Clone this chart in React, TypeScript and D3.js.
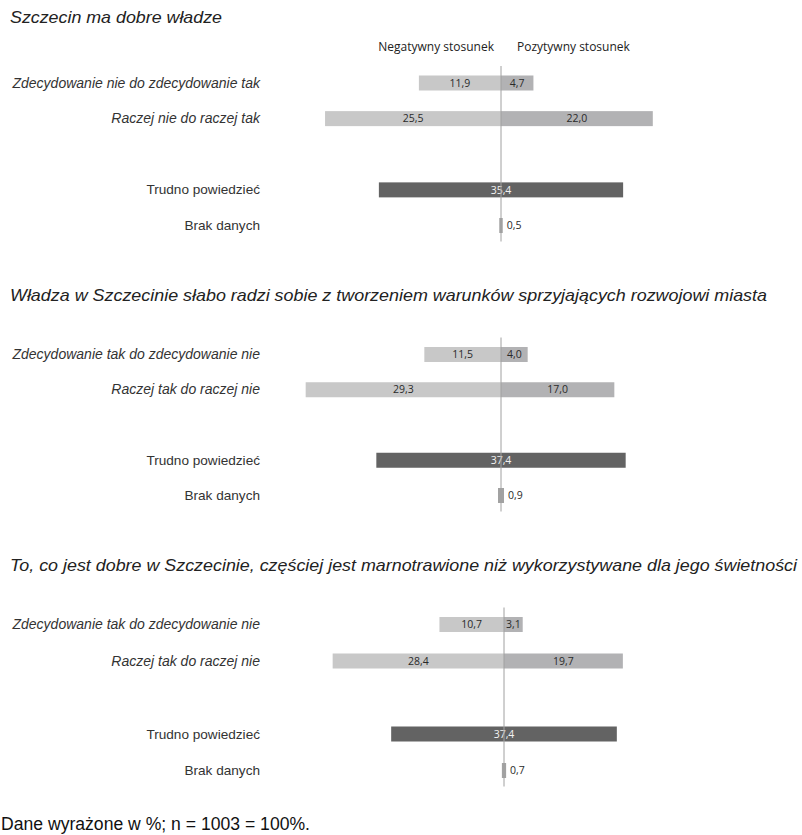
import React from "react";
import * as d3 from "d3";

// ---- data ----
const panelTitles = [
  "Szczecin ma dobre władze",
  "Władza w Szczecinie słabo radzi sobie z tworzeniem warunków sprzyjających rozwojowi miasta",
  "To, co jest dobre w Szczecinie, częściej jest marnotrawione niż wykorzystywane dla jego świetności",
];
const rowLabelsPanel1 = ["Zdecydowanie nie do zdecydowanie tak", "Raczej nie do raczej tak", "Trudno powiedzieć", "Brak danych"];
const rowLabelsOther = ["Zdecydowanie tak do zdecydowanie nie", "Raczej tak do raczej nie", "Trudno powiedzieć", "Brak danych"];
const negativeValues = [
  [11.9, 25.5],
  [11.5, 29.3],
  [10.7, 28.4],
];
const positiveValues = [
  [4.7, 22.0],
  [4.0, 17.0],
  [3.1, 19.7],
];
const hardToSayValues = [35.4, 37.4, 37.4];
const noDataValues = [0.5, 0.9, 0.7];
const headerLabels = ["Negatywny stosunek", "Pozytywny stosunek"];
const footnote = "Dane wyrażone w %; n = 1003 = 100%.";

// ---- layout ----
const W = 802;
const H = 835;
const panels = [
  { titleY: 23, titleLen: 212, axisX: 501, half: 207, r1: 83, r4: 225.5 },
  { titleY: 301, titleLen: 757, axisX: 501, half: 200, r1: 354.5, r4: 495.5 },
  { titleY: 571, titleLen: 787, axisX: 504, half: 181, r1: 624.5, r4: 770.5 },
];
const slots = ["r1", "r2", "gap", "r3", "r4"];
const BAR_H = 15;
const NEG = "#c8c8c8";
const POS = "#b2b2b4";
const HARD = "#636363";
const NODATA = "#a2a2a2";
const AXIS = "#a0a0a0";
const fmt = (v: number) => v.toFixed(1).replace(".", ",");
const labelFont = "'Liberation Sans', Arial, sans-serif";
const valueFont = "'Open Sans', sans-serif";

function Panel({ i }: { i: number }) {
  const p = panels[i];
  const x = d3.scaleLinear().domain([-30, 30]).range([p.axisX - p.half, p.axisX + p.half]);
  const y = d3.scalePoint<string>().domain(slots).range([p.r1, p.r4]);
  const labels = i === 0 ? rowLabelsPanel1 : rowLabelsOther;
  const rowKeys = ["r1", "r2", "r3", "r4"];
  const x0 = x(0);
  return (
    <g>
      <text
        x={10}
        y={p.titleY}
        fontFamily={labelFont}
        fontStyle="italic"
        fontSize={17}
        fill="#222"
        textLength={p.titleLen}
        lengthAdjust="spacingAndGlyphs"
      >
        {panelTitles[i]}
      </text>
      {i === 0 && (
        <g fontFamily={valueFont} fontSize={12} fill="#222">
          <text x={494} y={51} textAnchor="end">{headerLabels[0]}</text>
          <text x={517} y={51}>{headerLabels[1]}</text>
        </g>
      )}
      {rowKeys.map((k, j) => (
        <text
          key={k}
          x={260}
          y={(y(k) as number) + 4.5}
          textAnchor="end"
          fontFamily={labelFont}
          fontStyle={j < 2 ? "italic" : "normal"}
          fontSize={j < 2 ? 14 : 13.6}
          fill="#333"
        >
          {labels[j]}
        </text>
      ))}
      {/* agree/disagree rows */}
      {[0, 1].map((j) => {
        const cy = y(rowKeys[j]) as number;
        const nv = negativeValues[i][j];
        const pv = positiveValues[i][j];
        return (
          <g key={j}>
            <rect x={x(-nv)} y={cy - BAR_H / 2} width={x0 - x(-nv)} height={BAR_H} fill={NEG} />
            <rect x={x0} y={cy - BAR_H / 2} width={x(pv) - x0} height={BAR_H} fill={POS} />
            <text x={(x(-nv) + x0) / 2} y={cy + 3.7} textAnchor="middle" fontFamily={valueFont} fontSize={10.5} fontWeight={500} fill="#2a2a2a">
              {fmt(nv)}
            </text>
            <text x={(x(pv) + x0) / 2} y={cy + 3.7} textAnchor="middle" fontFamily={valueFont} fontSize={10.5} fontWeight={500} fill="#2a2a2a">
              {fmt(pv)}
            </text>
          </g>
        );
      })}
      {/* hard to say */}
      {(() => {
        const cy = y("r3") as number;
        const v = hardToSayValues[i];
        return (
          <g>
            <rect x={x(-v / 2)} y={cy - BAR_H / 2} width={x(v / 2) - x(-v / 2)} height={BAR_H} fill={HARD} />
            <text x={x0} y={cy + 3.7} textAnchor="middle" fontFamily={valueFont} fontSize={10.5} fontWeight={500} fill="#f2f2f2">
              {fmt(v)}
            </text>
          </g>
        );
      })()}
      {/* no data */}
      {(() => {
        const cy = y("r4") as number;
        const v = noDataValues[i];
        return (
          <g>
            <rect x={x(-v / 2)} y={cy - BAR_H / 2} width={x(v / 2) - x(-v / 2)} height={BAR_H} fill={NODATA} />
            <text x={x(v / 2) + 4} y={cy + 3.7} fontFamily={valueFont} fontSize={10.5} fontWeight={500} fill="#2a2a2a">
              {fmt(v)}
            </text>
          </g>
        );
      })()}
      <line x1={x0} x2={x0} y1={p.r1 - 17} y2={p.r4 + 16} stroke={AXIS} strokeWidth={1} />
    </g>
  );
}

export default function App() {
  return (
    <svg
      width={W}
      height={H}
      style={{ position: "absolute", left: 0, top: 0, background: "#fff" }}
    >
      {panels.map((_, i) => (
        <Panel key={i} i={i} />
      ))}
      <text
        x={1}
        y={830}
        fontFamily={labelFont}
        fontSize={17.5}
        fill="#111"
        textLength={309}
        lengthAdjust="spacingAndGlyphs"
      >
        {footnote}
      </text>
    </svg>
  );
}
